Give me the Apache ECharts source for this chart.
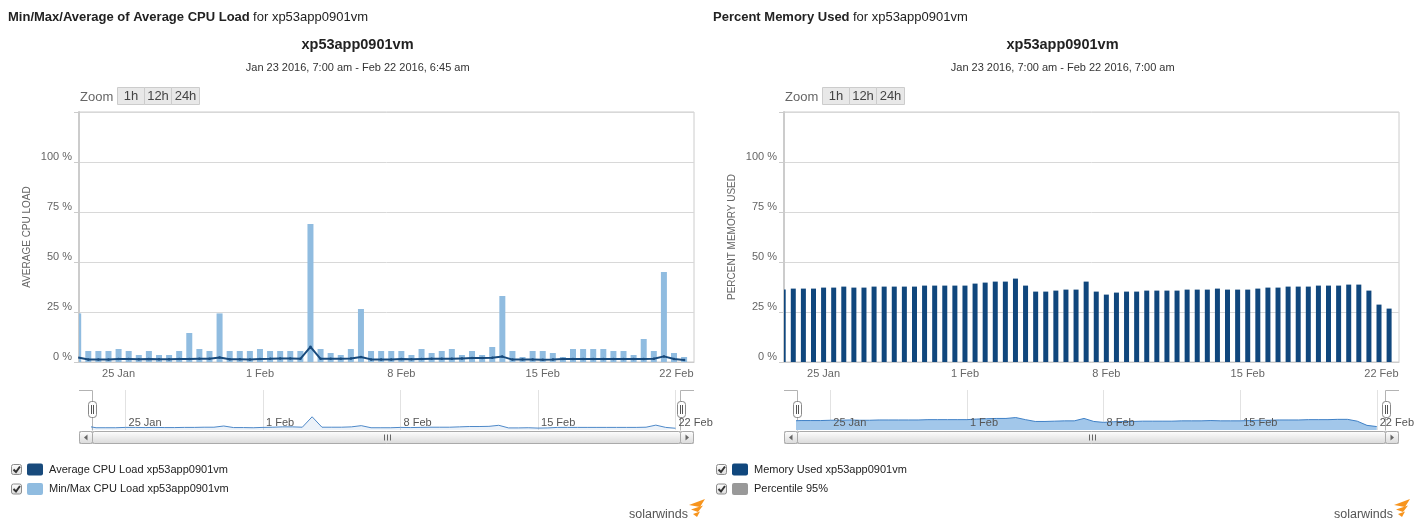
<!DOCTYPE html>
<html><head><meta charset="utf-8">
<script src="https://cdn.jsdelivr.net/npm/echarts@6/dist/echarts.min.js"></script>
<style>html,body{margin:0;padding:0;background:#fff}#c{width:1417px;height:526px}</style>
</head><body><div id="c"></div>
<script>
// ---- data (12-hour buckets, x = days after 25 Jan 2016 00:00) ----
const bucketDays = [-2,-1.5,-1,-0.5,0,0.5,1,1.5,2,2.5,3,3.5,4,4.5,5,5.5,6,6.5,7,7.5,8,8.5,9,9.5,10,10.5,11,11.5,12,12.5,13,13.5,14,14.5,15,15.5,16,16.5,17,17.5,18,18.5,19,19.5,20,20.5,21,21.5,22,22.5,23,23.5,24,24.5,25,25.5,26,26.5,27,27.5,28];
const cpuMax = [24.3,5.5,5.5,5.5,6.5,5.5,3.5,5.5,3.5,3.5,5.5,14.5,6.5,5.5,24.3,5.5,5.5,5.5,6.5,5.5,5.5,5.5,5.5,69,6.5,4.5,3.5,6.5,26.5,5.5,5.5,5.5,5.5,3.5,6.5,4.5,5.5,6.5,3.5,5.5,3.5,7.5,33,5.5,2.5,5.5,5.5,4.5,2.5,6.5,6.5,6.5,6.5,5.5,5.5,3.5,11.5,5.5,45,4.5,2.5];
const cpuAvg = [2.3,1.3,1.3,1.3,1.5,1.5,1.4,1.5,1.4,1.4,1.5,1.5,1.6,1.6,2.3,1.4,1.4,1.3,1.5,1.6,1.8,1.8,1.6,7.6,1.6,1.6,1.6,1.8,2.5,1.3,1.3,1.3,1.5,1.4,1.5,1.6,1.6,1.6,1.8,2.0,2.0,2.1,2.7,1.2,1.2,1.3,1.1,1.2,1.5,1.5,1.5,1.5,1.5,1.5,1.5,1.5,1.5,1.6,2.8,1.5,1.0];
const memUsed = [36.2,36.7,36.7,36.7,37.2,37.2,37.7,37.2,37.2,37.7,37.7,37.7,37.7,37.7,38.2,38.2,38.2,38.2,38.2,39.2,39.7,40.2,40.2,41.7,38.2,35.2,35.2,35.7,36.2,36.2,40.2,35.2,33.7,34.7,35.2,35.2,35.7,35.7,35.7,35.7,36.2,36.2,36.2,36.7,36.2,36.2,36.2,36.7,37.2,37.2,37.7,37.7,37.7,38.2,38.2,38.2,38.7,38.7,35.7,28.7,26.7];
const xTickDays = [0,7,14,21,28];
const xTickLabels = ['25 Jan','1 Feb','8 Feb','15 Feb','22 Feb'];
const host = 'xp53app0901vm';
const rangeLeft = 'Jan 23 2016, 7:00 am - Feb 22 2016, 6:45 am';
const rangeRight = 'Jan 23 2016, 7:00 am - Feb 22 2016, 7:00 am';
const zoomButtons = ['1h','12h','24h'];
const legendLeft = [['Average CPU Load ' + host, '#184a7c'], ['Min/Max CPU Load ' + host, '#90bce0']];
const legendRight = [['Memory Used ' + host, '#10477d'], ['Percentile 95%', '#999999']];

// ---- layout ----
const FONT = '"Liberation Sans", Arial, sans-serif';
const xLabelPos = [0,7,14,21,27.62]; // last label nudged left to stay inside plot
function fmtX(v){ let b=0; for(let i=0;i<xTickDays.length;i++){ if(Math.abs(xTickDays[i]-v)<Math.abs(xTickDays[b]-v)) b=i; } return xTickLabels[b]; }
const pairs = ys => bucketDays.map((d,i)=>[d, ys[i]]);

function mainX(grid){ return {gridIndex:grid, type:'value', position:'bottom', min:-1.96, max:28.49,
  axisLine:{show:true,onZero:false,lineStyle:{color:'#ccc'}}, axisTick:{show:false}, splitLine:{show:false},
  axisLabel:{customValues:xLabelPos, formatter:fmtX, color:'#666', fontSize:11, fontFamily:FONT, margin:6}}; }
function navGridX(grid){ return {gridIndex:grid, type:'value', position:'bottom', min:-1.708, max:28.28, z:0,
  axisLine:{show:false}, axisTick:{show:false, customValues:xTickDays}, axisLabel:{show:false},
  splitLine:{show:true,lineStyle:{color:'#e2e2e2'}}}; }
function navLabelX(grid){ return {gridIndex:grid, type:'value', position:'bottom', min:-1.708, max:28.28, z:5,
  axisLine:{show:false, onZero:false}, axisTick:{show:false}, splitLine:{show:false},
  axisLabel:{customValues:xTickDays, formatter:fmtX, inside:true, align:'left', padding:[0,0,0,3], color:'#555', fontSize:11, fontFamily:FONT, margin:2}}; }
function mainY(grid, name){ return {gridIndex:grid, type:'value', min:0, max:125, interval:25,
  name:name, nameLocation:'middle', nameGap:47, nameTextStyle:{color:'#666', fontSize:10, fontFamily:FONT},
  axisLine:{show:true, onZero:false, lineStyle:{color:'#ccc', width:2}}, axisTick:{show:true, length:5, lineStyle:{color:'#ccc'}},
  splitLine:{lineStyle:{color:'#d8d8d8'}},
  axisLabel:{formatter: v => v>100 ? '' : v+' %', color:'#666', fontSize:11, fontFamily:FONT, margin:7, verticalAlign:'bottom'}}; }

// bars drawn through the axes' scales, clipped to the plot area
function barRender(width, color){
  return (params, api)=>{
    const x = api.value(0), y = api.value(1);
    const p0 = api.coord([x,0]), p1 = api.coord([x,y]);
    const cs = params.coordSys;
    const r = echarts.graphic.clipRectByRect({x:p0[0]-width/2, y:p1[1], width:width, height:p0[1]-p1[1]},
      {x:cs.x, y:cs.y, width:cs.width, height:cs.height});
    return r ? {type:'rect', shape:r, style:{fill:color}} : null;
  };
}

const grad = {type:'linear',x:0,y:0,x2:0,y2:1,colorStops:[{offset:0,color:'#ffffff'},{offset:1,color:'#d9d9d9'}]};
const cbGrad = {type:'linear',x:0,y:0,x2:0,y2:1,colorStops:[{offset:0,color:'#ffffff'},{offset:1,color:'#dcdcdc'}]};

function panel(dx, header, title, subtitle, legend){
  const g = [];
  g.push({type:'text', x:8+dx, y:17.5, style:{text:header, rich:{b:{fontWeight:'bold',fontSize:13,fontFamily:FONT,fill:'#222'}, n:{fontSize:13,fontFamily:FONT,fill:'#222'}}, verticalAlign:'middle', fill:'#222'}});
  g.push({type:'text', x:357.5+dx, y:45, style:{text:title, font:'bold 14.5px '+FONT, fill:'#222', align:'center', verticalAlign:'middle'}});
  g.push({type:'text', x:357.7+dx, y:67.5, style:{text:subtitle, font:'11px '+FONT, fill:'#333', align:'center', verticalAlign:'middle'}});
  g.push({type:'text', x:80+dx, y:97, style:{text:'Zoom', font:'13px '+FONT, fill:'#666', verticalAlign:'middle'}});
  const bx = [117,144,171,199];
  zoomButtons.forEach((t,i)=>{
    g.push({type:'rect', shape:{x:bx[i]+0.5+dx, y:87.5, width:bx[i+1]-bx[i], height:17}, style:{fill:'#e8e8e8', stroke:'#cccccc'}});
    g.push({type:'text', x:(bx[i]+bx[i+1])/2+0.5+dx, y:96.5, style:{text:t, font:'13px '+FONT, fill:'#444', align:'center', verticalAlign:'middle'}});
  });
  // navigator outline and handles
  const pL=79+dx, pR=694+dx, hL=92+dx, hR=681+dx;
  g.push({type:'polyline', shape:{points:[[pL,390.5],[hL+0.5,390.5],[hL+0.5,430.5]]}, style:{stroke:'#b3b3b3', fill:null}});
  g.push({type:'polyline', shape:{points:[[hR-0.5,430.5],[hR-0.5,390.5],[pR,390.5]]}, style:{stroke:'#b3b3b3', fill:null}});
  // scrollbar
  g.push({type:'rect', shape:{x:pL+0.5, y:431.5, width:pR-pL-1, height:12}, style:{fill:'#f0f0f0', stroke:'#cccccc'}});
  g.push({type:'rect', shape:{x:pL+0.5, y:431.5, width:13, height:12, r:2}, style:{fill:grad, stroke:'#aaaaaa'}});
  g.push({type:'polygon', shape:{points:[[pL+8.5,434.5],[pL+8.5,440.5],[pL+5,437.5]]}, style:{fill:'#666'}});
  g.push({type:'rect', shape:{x:pR-13.5, y:431.5, width:13, height:12, r:2}, style:{fill:grad, stroke:'#aaaaaa'}});
  g.push({type:'polygon', shape:{points:[[pR-8.5,434.5],[pR-8.5,440.5],[pR-5,437.5]]}, style:{fill:'#666'}});
  g.push({type:'rect', shape:{x:hL+0.5, y:431.5, width:hR-hL-1, height:12, r:2}, style:{fill:grad, stroke:'#aaaaaa'}});
  const cx = Math.round((hL+hR)/2);
  [-3,0,3].forEach(o=>g.push({type:'line', shape:{x1:cx+o+0.5,y1:434.5,x2:cx+o+0.5,y2:440.5}, style:{stroke:'#666'}}));
  [hL, hR].forEach(h=>{
    g.push({type:'rect', shape:{x:h-3.5, y:401.5, width:8, height:16, r:3}, style:{fill:'#fff', stroke:'#888'}});
    g.push({type:'line', shape:{x1:h-0.5,y1:405,x2:h-0.5,y2:414}, style:{stroke:'#555'}});
    g.push({type:'line', shape:{x1:h+1.5,y1:405,x2:h+1.5,y2:414}, style:{stroke:'#555'}});
  });
  // legend
  legend.forEach((it,i)=>{
    const y = 469.5 + i*19.5;
    g.push({type:'rect', shape:{x:11.5+dx, y:y-5, width:10, height:10, r:2}, style:{fill:cbGrad, stroke:'#8c8c8c'}});
    g.push({type:'polyline', shape:{points:[[13.5+dx,y],[16+dx,y+2.5],[20+dx,y-3]]}, style:{stroke:'#333', lineWidth:2, fill:null}});
    g.push({type:'rect', shape:{x:27+dx, y:y-6, width:16, height:12, r:2}, style:{fill:it[1]}});
    g.push({type:'text', x:49+dx, y:y, style:{text:it[0], font:'11px '+FONT, fill:'#222', verticalAlign:'middle'}});
  });
  // logo
  g.push({type:'text', x:688+dx, y:514.5, style:{text:'solarwinds', font:'12.5px '+FONT, fill:'#555', align:'right', verticalAlign:'middle'}});
  g.push({type:'polygon', shape:{points:[[689+dx,505],[705+dx,499],[700+dx,507]]}, style:{fill:'#f7941d'}});
  g.push({type:'polygon', shape:{points:[[691+dx,509.5],[703+dx,505.5],[698+dx,512]]}, style:{fill:'#f7941d'}});
  g.push({type:'polygon', shape:{points:[[693+dx,514],[700+dx,511.5],[697+dx,517]]}, style:{fill:'#f7941d'}});
  return g;
}

const chart = echarts.init(document.getElementById('c'), null, {renderer:'canvas'});
chart.setOption({
  animation:false,
  backgroundColor:'#fff',
  textStyle:{fontFamily:FONT},
  grid:[
    {left:79, top:112, width:615, height:250, show:true, borderColor:'#ccc', borderWidth:1, backgroundColor:'transparent'},
    {left:92, top:390, width:589, height:40},
    {left:784, top:112, width:615, height:250, show:true, borderColor:'#ccc', borderWidth:1, backgroundColor:'transparent'},
    {left:797, top:390, width:589, height:40}
  ],
  // x axes: 0 left main, 1 left nav grid lines, 2 left nav labels, 3 right main, 4 right nav grid lines, 5 right nav labels
  xAxis:[mainX(0), navGridX(1), navLabelX(1), mainX(2), navGridX(3), navLabelX(3)],
  yAxis:[mainY(0,'AVERAGE CPU LOAD'), {gridIndex:1, min:0, max:23, show:false},
         mainY(2,'PERCENT MEMORY USED'), {gridIndex:3, min:21, max:87.5, show:false}],
  series:[
    {type:'custom', name:'Min/Max CPU Load '+host, xAxisIndex:0, yAxisIndex:0, data:pairs(cpuMax), encode:{x:0,y:1}, z:2,
      renderItem: barRender(6, '#90bce0')},
    {type:'line', name:'Average CPU Load '+host, xAxisIndex:0, yAxisIndex:0, data:pairs(cpuAvg), symbol:'circle', symbolSize:2.5, showSymbol:true,
      itemStyle:{color:'#184a7c'}, lineStyle:{color:'#184a7c', width:2}, clip:true, z:3},
    {type:'line', xAxisIndex:1, yAxisIndex:1, data:pairs(cpuAvg), showSymbol:false, lineStyle:{color:'#4d88c8', width:1},
      areaStyle:{color:'rgba(77,136,200,0.15)'}, clip:true, z:1},
    {type:'custom', name:'Memory Used '+host, xAxisIndex:3, yAxisIndex:2, data:pairs(memUsed), encode:{x:0,y:1}, z:2,
      renderItem: barRender(5, '#10477d')},
    {type:'line', xAxisIndex:4, yAxisIndex:3, data:pairs(memUsed), showSymbol:false, lineStyle:{color:'#3f80c6', width:1},
      areaStyle:{color:'#a2c7ea', opacity:1}, clip:true, z:1}
  ],
  graphic: panel(0, '{b|Min/Max/Average of Average CPU Load} {n|for '+host+'}', host, rangeLeft, legendLeft)
    .concat(panel(705, '{b|Percent Memory Used} {n|for '+host+'}', host, rangeRight, legendRight))
});
</script>
</body></html>
